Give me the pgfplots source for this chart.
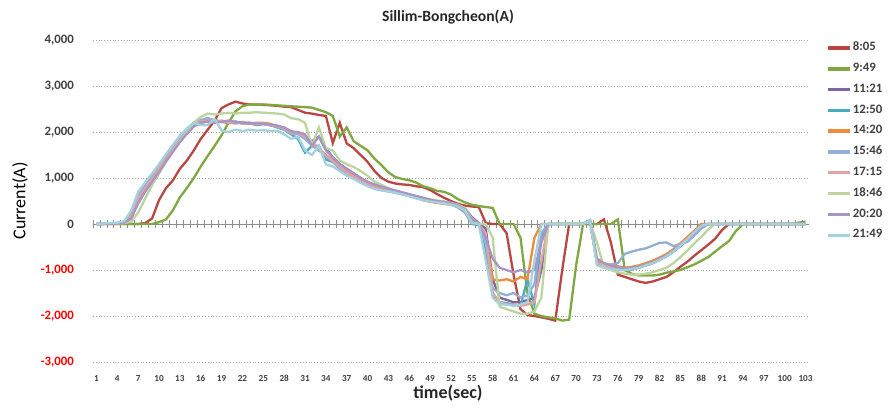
\documentclass[border=0pt]{standalone}
\usepackage{pgfplots}
\pgfplotsset{compat=1.18}
\usepackage{fontspec}
\setmainfont{Carlito}

\definecolor{cA}{HTML}{B84744}
\definecolor{cB}{HTML}{7FA840}
\definecolor{cC}{HTML}{7F64A2}
\definecolor{cD}{HTML}{4AA9C3}
\definecolor{cE}{HTML}{F08A3C}
\definecolor{cF}{HTML}{94AFD6}
\definecolor{cG}{HTML}{E3A2A0}
\definecolor{cH}{HTML}{BCD59F}
\definecolor{cI}{HTML}{A895C5}
\definecolor{cJ}{HTML}{A3D2DF}
\definecolor{lbl}{HTML}{404040}

\begin{document}
\begin{tikzpicture}
% fixed page frame (890x409 px at 2px/pt)
\path (-46.5pt,-23.5pt) rectangle (398.5pt,181pt);
\begin{axis}[
    at={(0pt,0pt)}, anchor=south west,
    scale only axis, width=358pt, height=161pt,
    xmin=0.5, xmax=103.5, ymin=-3000, ymax=4000,
    axis line style={draw=none},
    major tick length=0pt,
    xtick={1,4,...,103},
    ytick={-3000,-2000,...,4000},
    yticklabels={{\color{red}-3,000},{\color{red}-2,000},{\color{red}-1,000},0,{1,000},{2,000},{3,000},{4,000}},
    /pgf/number format/assume math mode=true,
    ymajorgrids,
    grid style={densely dotted, black!35, line width=0.45pt},
    x tick label style={font=\bfseries\fontsize{4.6}{5.5}\selectfont, text=lbl},
    y tick label style={font=\bfseries\fontsize{6.4}{7}\selectfont, text=lbl},
    xticklabel shift=3pt,
    yticklabel shift=6pt,
    every axis plot/.append style={line width=1.15pt, mark=none},
    legend style={at={(1.0237,0.999)}, anchor=north west, draw=none, fill=none,
      inner sep=0pt, font=\bfseries\fontsize{6.4}{7}\selectfont, text=lbl,
      row sep=3.25pt, nodes={inner sep=0.7pt}},
    legend cell align=left,
    legend image code/.code={\draw[#1, line width=1.6pt] (0pt,0pt) -- (11pt,0pt);},
  ]

  % axis line at zero with category tick marks
  \draw[black!45, line width=0.5pt] (axis cs:0.5,0) -- (axis cs:103.5,0);
  \pgfplotsinvokeforeach{0.5,1.5,...,103.5}{
    \draw[black!45, line width=0.4pt] ([yshift=-2pt]axis cs:#1,0) -- ([yshift=2pt]axis cs:#1,0);
  }

  % 8:05
  \addplot[color=cA] coordinates {
    (1,0)(7,0)(8,20)(9,120)(10,520)(11,780)(12,950)(13,1200)(14,1380)(15,1600)
    (16,1850)(17,2050)(18,2250)(19,2520)(20,2600)(21,2660)(22,2620)(23,2600)(24,2600)
    (25,2590)(26,2580)(27,2570)(28,2550)(29,2540)(30,2480)(31,2420)(32,2400)(33,2370)
    (34,2350)(35,1760)(36,2200)(37,1750)(38,1650)(39,1500)(40,1350)(41,1150)(42,1000)
    (43,920)(44,880)(45,860)(46,850)(47,820)(48,800)(49,740)(50,650)(51,570)(52,500)
    (53,440)(54,400)(55,380)(56,370)(57,20)(58,0)(59,0)(60,-200)(61,-1100)(62,-1850)
    (63,-1980)(64,-2000)(65,-2030)(66,-2060)(67,-2100)(68,-1000)(69,0)(73,0)(74,100)
    (75,-400)(76,-1100)(77,-1150)(78,-1200)(79,-1250)(80,-1280)(81,-1250)(82,-1200)
    (83,-1150)(84,-1050)(85,-930)(86,-820)(87,-690)(88,-570)(89,-450)(90,-320)
    (91,-130)(92,0)(103,0)
  };
  \addlegendentry{8:05}

  % 9:49
  \addplot[color=cB] coordinates {
    (1,0)(9,0)(10,40)(11,100)(12,300)(13,580)(14,780)(15,1000)(16,1250)(17,1480)
    (18,1700)(19,1930)(20,2200)(21,2450)(22,2560)(23,2600)(24,2590)(25,2600)(26,2590)
    (27,2580)(28,2570)(29,2560)(30,2550)(31,2540)(32,2530)(33,2480)(34,2430)(35,2350)
    (36,1900)(37,2100)(38,1800)(39,1700)(40,1600)(41,1420)(42,1280)(43,1120)(44,1020)
    (45,980)(46,950)(47,900)(48,820)(49,780)(50,720)(51,700)(52,640)(53,540)(54,470)
    (55,420)(56,390)(57,370)(58,350)(59,0)(61,0)(62,-300)(63,-1500)(64,-1950)(65,-2000)
    (66,-2030)(67,-2050)(68,-2100)(69,-2080)(70,-900)(71,0)(75,0)(76,100)(77,-1000)
    (78,-1080)(79,-1120)(80,-1120)(81,-1120)(82,-1100)(83,-1060)(84,-1030)(85,-1000)
    (86,-940)(87,-880)(88,-800)(89,-720)(90,-600)(91,-480)(92,-370)(93,-150)(94,0)
    (101,0)(102,30)(103,50)
  };
  \addlegendentry{9:49}

  % 11:21
  \addplot[color=cC] coordinates {
    (1,0)(4,10)(5,40)(6,150)(7,480)(8,750)(9,950)(10,1150)(11,1380)(12,1600)(13,1800)
    (14,1980)(15,2130)(16,2200)(17,2230)(18,2250)(19,2230)(20,2200)(21,2190)(22,2200)
    (23,2180)(24,2170)(25,2180)(26,2150)(27,2130)(28,2080)(29,2000)(30,1990)(31,1900)
    (32,1800)(33,1900)(34,1650)(35,1450)(36,1300)(37,1200)(38,1100)(39,1000)(40,900)
    (41,850)(42,800)(43,760)(44,720)(45,680)(46,640)(47,600)(48,560)(49,520)(50,490)
    (51,470)(52,440)(53,410)(54,340)(55,150)(56,20)(57,-100)(58,-1200)(59,-1600)
    (60,-1650)(61,-1700)(62,-1700)(63,-1650)(64,-1600)(65,-1000)(66,0)(71,0)(72,50)
    (73,-800)(74,-900)(75,-950)(76,-1000)(77,-1000)(78,-990)(79,-950)(80,-900)(81,-850)
    (82,-780)(83,-700)(84,-600)(85,-480)(86,-350)(87,-200)(88,-60)(89,0)(103,0)
  };
  \addlegendentry{11:21}

  % 12:50
  \addplot[color=cD] coordinates {
    (1,0)(4,20)(5,50)(6,250)(7,650)(8,850)(9,1050)(10,1250)(11,1480)(12,1680)(13,1880)
    (14,2050)(15,2200)(16,2250)(17,2300)(18,2250)(19,2220)(20,2200)(21,2230)(22,2180)
    (23,2200)(24,2150)(25,2170)(26,2150)(27,2100)(28,2050)(29,1950)(30,1850)(31,1550)
    (32,1700)(33,1700)(34,1400)(35,1350)(36,1200)(37,1100)(38,1000)(39,920)(40,850)
    (41,780)(42,740)(43,710)(44,680)(45,650)(46,610)(47,570)(48,530)(49,490)(50,470)
    (51,450)(52,420)(53,380)(54,280)(55,0)(56,-20)(57,-600)(58,-1550)(59,-1700)
    (60,-1720)(61,-1750)(62,-1780)(63,-1200)(64,-1750)(65,-300)(66,0)(71,0)(72,80)
    (73,-850)(74,-900)(75,-950)(76,-980)(77,-1000)(78,-980)(79,-950)(80,-900)(81,-850)
    (82,-780)(83,-700)(84,-600)(85,-450)(86,-300)(87,-150)(88,0)(103,0)
  };
  \addlegendentry{12:50}

  % 14:20
  \addplot[color=cE] coordinates {
    (1,0)(4,10)(5,40)(6,200)(7,550)(8,800)(9,1000)(10,1220)(11,1450)(12,1650)(13,1850)
    (14,2020)(15,2180)(16,2260)(17,2220)(18,2250)(19,2230)(20,2200)(21,2200)(22,2220)
    (23,2180)(24,2200)(25,2200)(26,2180)(27,2120)(28,2080)(29,2000)(30,2000)(31,1900)
    (32,1750)(33,1600)(34,1500)(35,1380)(36,1250)(37,1150)(38,1050)(39,950)(40,880)
    (41,820)(42,780)(43,740)(44,700)(45,660)(46,620)(47,580)(48,520)(49,480)(50,460)
    (51,440)(52,420)(53,380)(54,250)(55,30)(56,0)(57,-300)(58,-1200)(59,-1230)
    (60,-1200)(61,-1250)(62,-1150)(63,-1200)(64,-300)(65,0)(71,0)(72,50)(73,-800)
    (74,-850)(75,-900)(76,-920)(77,-950)(78,-930)(79,-900)(80,-850)(81,-800)(82,-730)
    (83,-650)(84,-550)(85,-420)(86,-280)(87,-150)(88,0)(103,0)
  };
  \addlegendentry{14:20}

  % 15:46
  \addplot[color=cF] coordinates {
    (1,0)(4,20)(5,50)(6,220)(7,600)(8,820)(9,1020)(10,1230)(11,1450)(12,1650)(13,1850)
    (14,2020)(15,2180)(16,2260)(17,2300)(18,2250)(19,2220)(20,2230)(21,2200)(22,2210)
    (23,2190)(24,2180)(25,2170)(26,2150)(27,2120)(28,2050)(29,1950)(30,1950)(31,1850)
    (32,1700)(33,1600)(34,1480)(35,1350)(36,1200)(37,1100)(38,1000)(39,900)(40,830)
    (41,790)(42,760)(43,730)(44,690)(45,650)(46,620)(47,580)(48,540)(49,500)(50,480)
    (51,460)(52,420)(53,360)(54,250)(55,20)(56,0)(57,-400)(58,-1400)(59,-1500)
    (60,-1550)(61,-1500)(62,-1600)(63,-1550)(64,-1300)(65,-200)(66,0)(71,0)(72,60)
    (73,-850)(74,-900)(75,-880)(76,-850)(77,-650)(78,-600)(79,-560)(80,-530)(81,-470)
    (82,-410)(83,-400)(84,-480)(85,-430)(86,-390)(87,-250)(88,-100)(89,0)(103,0)
  };
  \addlegendentry{15:46}

  % 17:15
  \addplot[color=cG] coordinates {
    (1,0)(4,10)(5,40)(6,180)(7,550)(8,780)(9,980)(10,1200)(11,1420)(12,1620)(13,1820)
    (14,2000)(15,2150)(16,2230)(17,2250)(18,2220)(19,2250)(20,2200)(21,2220)(22,2180)
    (23,2200)(24,2170)(25,2180)(26,2150)(27,2130)(28,2080)(29,2000)(30,1980)(31,1900)
    (32,1780)(33,1650)(34,1500)(35,1380)(36,1250)(37,1130)(38,1030)(39,940)(40,870)
    (41,810)(42,770)(43,740)(44,710)(45,670)(46,620)(47,560)(48,520)(49,500)(50,470)
    (51,440)(52,420)(53,380)(54,300)(55,60)(56,0)(57,-200)(58,-1500)(59,-1700)
    (60,-1750)(61,-1750)(62,-1780)(63,-1750)(64,-1700)(65,-800)(66,0)(71,0)(72,60)
    (73,-850)(74,-900)(75,-950)(76,-970)(77,-990)(78,-980)(79,-950)(80,-900)(81,-850)
    (82,-770)(83,-680)(84,-580)(85,-450)(86,-320)(87,-180)(88,-40)(89,0)(103,0)
  };
  \addlegendentry{17:15}

  % 18:46
  \addplot[color=cH] coordinates {
    (1,0)(5,20)(6,50)(7,250)(8,550)(9,850)(10,1100)(11,1350)(12,1580)(13,1800)
    (14,2000)(15,2200)(16,2330)(17,2400)(18,2380)(19,2400)(20,2420)(21,2400)(22,2420)
    (23,2420)(24,2430)(25,2420)(26,2410)(27,2400)(28,2380)(29,2300)(30,2280)(31,2200)
    (32,1700)(33,2100)(34,1650)(35,1600)(36,1380)(37,1300)(38,1240)(39,1150)(40,1050)
    (41,920)(42,850)(43,780)(44,700)(45,660)(46,630)(47,600)(48,560)(49,530)(50,510)
    (51,490)(52,460)(53,420)(54,350)(55,120)(56,0)(57,0)(58,-300)(59,-1800)(60,-1850)
    (61,-1900)(62,-1950)(63,-1950)(64,-1900)(65,-1600)(66,0)(72,30)(73,-400)(74,-950)
    (75,-1000)(76,-1050)(77,-1080)(78,-1100)(79,-1100)(80,-1080)(81,-1050)(82,-1000)
    (83,-950)(84,-850)(85,-720)(86,-580)(87,-420)(88,-280)(89,-120)(90,0)(103,0)
  };
  \addlegendentry{18:46}

  % 20:20
  \addplot[color=cI] coordinates {
    (1,0)(4,10)(5,30)(6,120)(7,450)(8,700)(9,920)(10,1130)(11,1360)(12,1570)(13,1780)
    (14,1960)(15,2120)(16,2200)(17,2230)(18,2200)(19,2220)(20,2250)(21,2220)(22,2200)
    (23,2200)(24,2190)(25,2180)(26,2160)(27,2140)(28,2100)(29,2020)(30,1990)(31,1950)
    (32,1700)(33,1900)(34,1600)(35,1450)(36,1300)(37,1200)(38,1100)(39,1000)(40,920)
    (41,860)(42,810)(43,770)(44,730)(45,690)(46,650)(47,610)(48,570)(49,530)(50,500)
    (51,480)(52,450)(53,400)(54,320)(55,100)(56,0)(57,-300)(58,-750)(59,-950)
    (60,-1000)(61,-1050)(62,-1000)(63,-1050)(64,-1000)(65,-400)(66,0)(71,0)(72,80)
    (73,-750)(74,-850)(75,-900)(76,-940)(77,-960)(78,-950)(79,-930)(80,-880)(81,-830)
    (82,-760)(83,-680)(84,-580)(85,-470)(86,-340)(87,-200)(88,-60)(89,0)(103,0)
  };
  \addlegendentry{20:20}

  % 21:49
  \addplot[color=cJ] coordinates {
    (1,0)(4,30)(5,60)(6,300)(7,700)(8,900)(9,1100)(10,1300)(11,1520)(12,1720)(13,1920)
    (14,2080)(15,2200)(16,2150)(17,2150)(18,2280)(19,2030)(20,2000)(21,2050)(22,2020)
    (23,2050)(24,2030)(25,2040)(26,2020)(27,2030)(28,1950)(29,1850)(30,1900)(31,1600)
    (32,1500)(33,1700)(34,1300)(35,1250)(36,1150)(37,1050)(38,980)(39,900)(40,820)
    (41,760)(42,730)(43,710)(44,680)(45,640)(46,600)(47,560)(48,520)(49,490)(50,470)
    (51,450)(52,420)(53,380)(54,300)(55,30)(56,0)(57,-800)(58,-1600)(59,-1750)
    (60,-1750)(61,-1780)(62,-1750)(63,-1700)(64,-800)(65,0)(71,0)(72,80)(73,-900)
    (74,-950)(75,-980)(76,-1000)(77,-1000)(78,-980)(79,-950)(80,-900)(81,-850)(82,-780)
    (83,-700)(84,-600)(85,-470)(86,-330)(87,-180)(88,-40)(89,0)(103,0)
  };
  \addlegendentry{21:49}

\end{axis}
\node[font=\bfseries\fontsize{7.8}{9}\selectfont, text=black!85] at (177.5pt,172.5pt) {Sillim-Bongcheon(A)};
\node[font=\bfseries\fontsize{9}{10}\selectfont, text=black!85] at (177.5pt,-15.5pt) {time(sec)};
\node[rotate=90, font=\fontsize{9}{10}\selectfont] at (-36.5pt,80.5pt) {Current(A)};
\end{tikzpicture}
\end{document}
